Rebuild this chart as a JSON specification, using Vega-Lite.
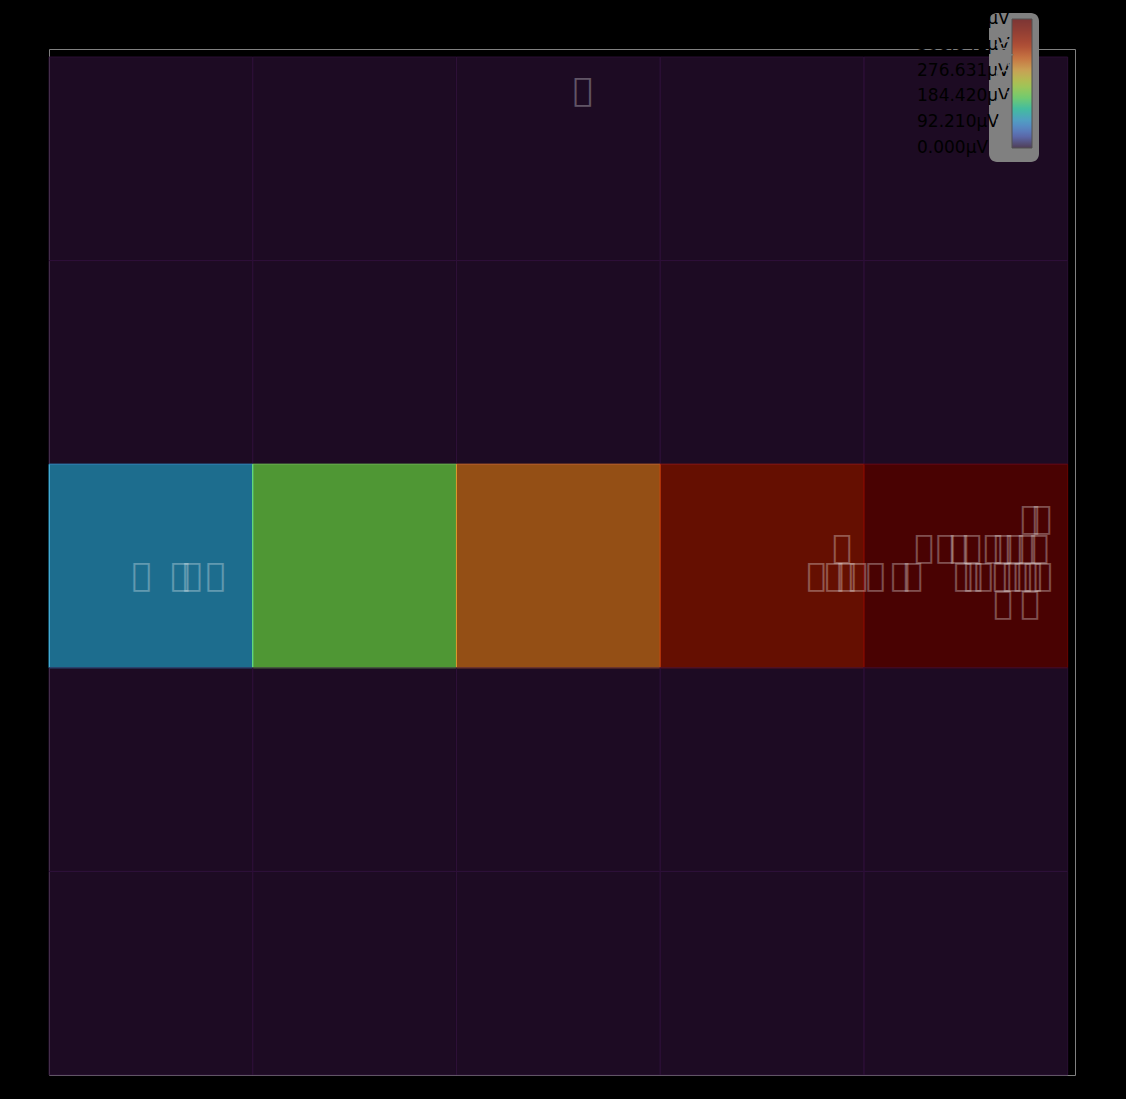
{
  "$schema": "https://vega.github.io/schema/vega-lite/v6.json",
  "background": "black",
  "autosize": "none",
  "width": 1026,
  "height": 1026,
  "padding": {"left": 49, "top": 49, "right": 51, "bottom": 24},
  "config": {
    "view": {"stroke": "#808080", "strokeWidth": 1},
    "axis": {"disable": true}
  },
  "datasets": {
    "cells": [
      {"col": 0, "row": 0, "v": 0}, {"col": 1, "row": 0, "v": 0}, {"col": 2, "row": 0, "v": 0}, {"col": 3, "row": 0, "v": 0}, {"col": 4, "row": 0, "v": 0},
      {"col": 0, "row": 1, "v": 0}, {"col": 1, "row": 1, "v": 0}, {"col": 2, "row": 1, "v": 0}, {"col": 3, "row": 1, "v": 0}, {"col": 4, "row": 1, "v": 0},
      {"col": 0, "row": 2, "v": 101.4}, {"col": 1, "row": 2, "v": 193.6}, {"col": 2, "row": 2, "v": 308.0}, {"col": 3, "row": 2, "v": 405.7}, {"col": 4, "row": 2, "v": 461.051},
      {"col": 0, "row": 3, "v": 0}, {"col": 1, "row": 3, "v": 0}, {"col": 2, "row": 3, "v": 0}, {"col": 3, "row": 3, "v": 0}, {"col": 4, "row": 3, "v": 0},
      {"col": 0, "row": 4, "v": 0}, {"col": 1, "row": 4, "v": 0}, {"col": 2, "row": 4, "v": 0}, {"col": 3, "row": 4, "v": 0}, {"col": 4, "row": 4, "v": 0}
    ],
    "labels": [
      {"px": 2.618, "py": 4.826, "t": "\ue000"},
      {"px": 0.454, "py": 2.448, "t": "\ue000"},
      {"px": 0.643, "py": 2.448, "t": "\ue000"},
      {"px": 0.702, "py": 2.448, "t": "\ue000"},
      {"px": 0.817, "py": 2.448, "t": "\ue000"},
      {"px": 4.813, "py": 2.728, "t": "\ue000"},
      {"px": 4.872, "py": 2.728, "t": "\ue000"},
      {"px": 3.891, "py": 2.586, "t": "\ue000"},
      {"px": 4.293, "py": 2.586, "t": "\ue000"},
      {"px": 4.399, "py": 2.586, "t": "\ue000"},
      {"px": 4.465, "py": 2.586, "t": "\ue000"},
      {"px": 4.529, "py": 2.586, "t": "\ue000"},
      {"px": 4.632, "py": 2.586, "t": "\ue000"},
      {"px": 4.681, "py": 2.586, "t": "\ue000"},
      {"px": 4.740, "py": 2.586, "t": "\ue000"},
      {"px": 4.798, "py": 2.586, "t": "\ue000"},
      {"px": 4.858, "py": 2.586, "t": "\ue000"},
      {"px": 3.764, "py": 2.448, "t": "\ue000"},
      {"px": 3.852, "py": 2.448, "t": "\ue000"},
      {"px": 3.913, "py": 2.448, "t": "\ue000"},
      {"px": 3.969, "py": 2.448, "t": "\ue000"},
      {"px": 4.055, "py": 2.448, "t": "\ue000"},
      {"px": 4.176, "py": 2.448, "t": "\ue000"},
      {"px": 4.239, "py": 2.448, "t": "\ue000"},
      {"px": 4.485, "py": 2.448, "t": "\ue000"},
      {"px": 4.534, "py": 2.448, "t": "\ue000"},
      {"px": 4.585, "py": 2.448, "t": "\ue000"},
      {"px": 4.676, "py": 2.448, "t": "\ue000"},
      {"px": 4.725, "py": 2.448, "t": "\ue000"},
      {"px": 4.777, "py": 2.448, "t": "\ue000"},
      {"px": 4.826, "py": 2.448, "t": "\ue000"},
      {"px": 4.875, "py": 2.448, "t": "\ue000"},
      {"px": 4.681, "py": 2.309, "t": "\ue000"},
      {"px": 4.813, "py": 2.309, "t": "\ue000"}
    ]
  },
  "layer": [
    {
      "layer": [
        {
          "data": {"name": "cells"},
          "mark": {"type": "rect", "opacity": 0.6},
          "encoding": {
            "x": {"field": "col", "type": "ordinal", "axis": null, "scale": {"paddingInner": 0, "paddingOuter": 0.018, "align": 0}},
            "y": {"field": "row", "type": "ordinal", "axis": null, "scale": {"paddingInner": 0, "paddingOuter": 0.0196, "align": 1}},
            "color": {
              "field": "v", "type": "quantitative",
              "scale": {"domain": [0, 461.051], "interpolate": "rgb", "range": ["#30123b", "#4662d7", "#36aaf9", "#1ae4b6", "#72fe5e", "#c7ef34", "#faba39", "#f66b19", "#cb2a04", "#a01502", "#7a0403"]},
              "legend": {
                "type": "gradient",
                "title": "461.051µV",
                "titleOrient": "left",
                "titleColor": "#808080",
                "titleFont": "DejaVu Sans",
                "titleFontSize": 17,
                "titleFontWeight": "normal",
                "titlePadding": -2,
                "orient": "none",
                "legendX": 940,
                "legendY": -36,
                "direction": "vertical",
                "gradientLength": 129,
                "gradientThickness": 20,
                "gradientStrokeColor": "#333333",
                "gradientStrokeWidth": 1,
                "values": [0.0001, 92.2102, 184.4204, 276.6306, 368.8408, 461.0509],
                "labelExpr": "format(datum.value, '.3f') + 'µV'",
                "labelOffset": -115,
                "labelFont": "DejaVu Sans",
                "labelFontSize": 17,
                "labelColor": "black",
                "labelOverlap": false,
                "labelLimit": 200,
                "fillColor": "#808080",
                "cornerRadius": 8,
                "padding": 6
              }
            }
          }
        },
        {
          "data": {"name": "cells"},
          "mark": {"type": "rect", "filled": false, "strokeWidth": 1, "strokeOpacity": 0.8},
          "encoding": {
            "x": {"field": "col", "type": "ordinal", "axis": null},
            "y": {"field": "row", "type": "ordinal", "axis": null},
            "stroke": {"field": "v", "type": "quantitative", "legend": null,
              "scale": {"domain": [-0.0001, 461.0511], "interpolate": "rgb", "range": ["#30123b", "#4662d7", "#36aaf9", "#1ae4b6", "#72fe5e", "#c7ef34", "#faba39", "#f66b19", "#cb2a04", "#a01502", "#7a0403"]}}
          }
        }
      ]
    },
    {
      "data": {"name": "labels"},
      "mark": {"type": "text", "font": "DejaVu Sans", "fontSize": 33, "fill": "white", "opacity": 0.3, "align": "center", "baseline": "middle"},
      "encoding": {
        "x": {"field": "px", "type": "quantitative", "axis": null, "scale": {"domain": [0, 5.0343], "nice": false, "zero": false}},
        "y": {"field": "py", "type": "quantitative", "axis": null, "scale": {"domain": [0, 5.0343], "nice": false, "zero": false}},
        "text": {"field": "t"}
      }
    }
  ],
  "resolve": {"scale": {"x": "independent", "y": "independent"}}
}
